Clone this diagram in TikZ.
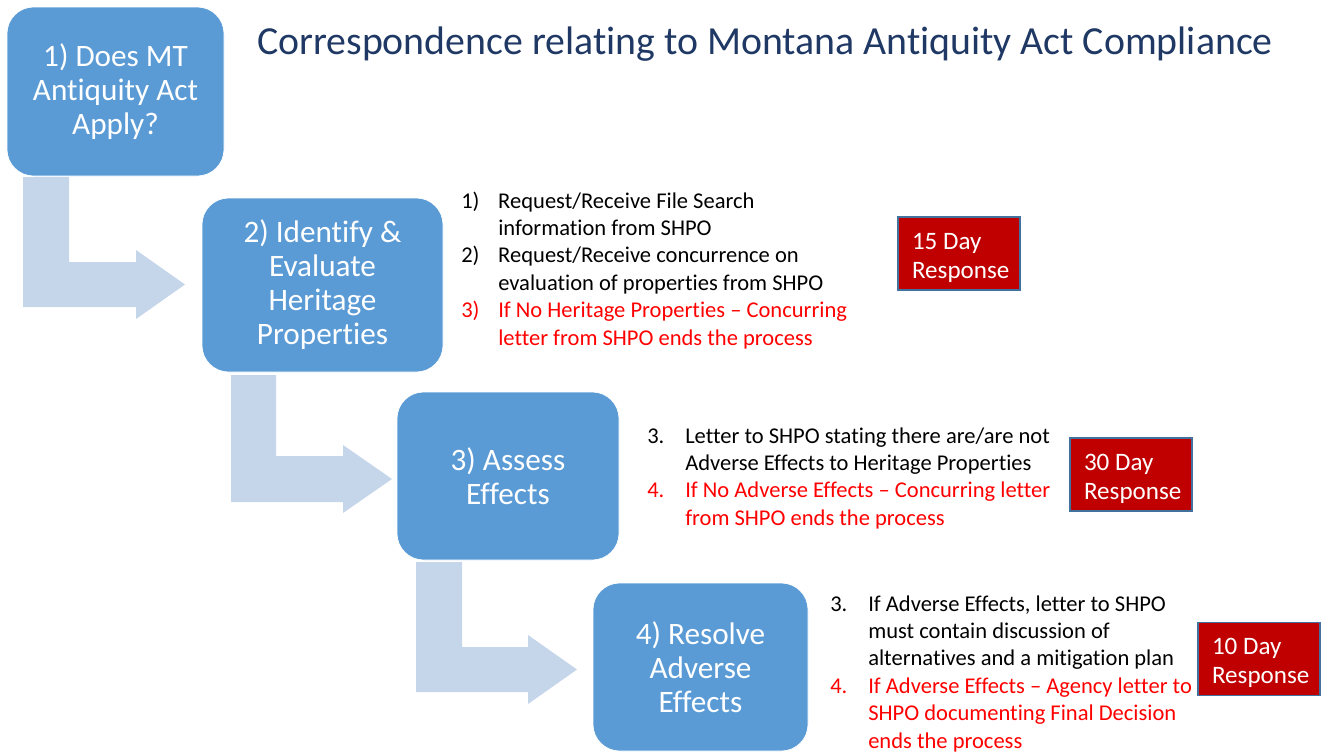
\documentclass[tikz,border=0pt]{standalone}
\usepackage{fontspec}
\setmainfont{Carlito}[Ligatures={TeX,NoCommon}]
\usepackage{array}
\definecolor{boxblue}{HTML}{5B9BD5}
\definecolor{arrowblue}{RGB}{197,213,234}
\definecolor{darkred}{HTML}{C00000}
\definecolor{redborder}{HTML}{41719C}
\definecolor{titleblue}{HTML}{1F3864}
\definecolor{alert}{HTML}{FF0000}
\newcommand\daytext[1]{\rule{0pt}{18.5pt}\hspace*{2.5pt}#1 Day\\\hspace*{2.5pt}Response}
\begin{document}
\begin{tikzpicture}[x=0.75pt,y=-0.75pt,
  stepbox/.style={rectangle, rounded corners=20pt, fill=boxblue, draw=white, line width=0.5pt, text=white, align=center, font=\fontsize{23.4}{25.5}\selectfont, inner sep=0pt},
  bentarrow/.style={fill=arrowblue},
  daybox/.style={rectangle, fill=darkred, draw=redborder, line width=1pt, text=white, align=left, font=\fontsize{18.8}{22}\selectfont, minimum width=91.5pt, minimum height=54.75pt, inner sep=0pt},
  steps/.style={anchor=base west, inner sep=0pt, font=\fontsize{16.9}{20.55}\selectfont}
]
\useasboundingbox (0,0) rectangle (1332,751);

% bent block arrows
\fill[bentarrow] (23,177) -- (69,177) -- (69,262) -- (136,262) -- (136,250) -- (185,284.5) -- (136,319) -- (136,307) -- (23,307) -- cycle;
\fill[bentarrow] (231,375) -- (276,375) -- (276,456) -- (343,456) -- (343,445) -- (392,479) -- (343,513) -- (343,502) -- (231,502) -- cycle;
\fill[bentarrow] (416,562) -- (462,562) -- (462,647) -- (528,647) -- (528,635) -- (577,669.5) -- (528,704) -- (528,692) -- (416,692) -- cycle;

% step boxes
\node[stepbox, minimum width=162.75pt, minimum height=126.75pt] (s1) at (115.5,91.5) {1) Does MT\\Antiquity Act\\Apply?};
\node[stepbox, minimum width=180.75pt, minimum height=130.5pt] (s2) at (322.5,285) {2) Identify \&\\Evaluate\\Heritage\\Properties};
\node[stepbox, minimum width=166.5pt, minimum height=126pt] (s3) at (508,476) {3) Assess\\Effects};
\node[stepbox, minimum width=161.25pt, minimum height=126pt] (s4) at (700.5,667) {4) Resolve\\Adverse\\Effects};

% title
\node[anchor=base west, inner sep=0pt, text=titleblue, font=\fontsize{29.85}{35}\selectfont] (title) at (257,54) {Correspondence relating to Montana Antiquity Act Compliance};

% step descriptions
\node[steps] (t2) at (461,208) {\begin{tabular}[t]{@{}p{27.75pt}@{}l@{}}
1) & Request/Receive File Search\\
   & information from SHPO\\
2) & Request/Receive concurrence on\\
   & evaluation of properties from SHPO\\
\textcolor{alert}{3)} & \textcolor{alert}{If No Heritage Properties -- Concurring}\\
   & \textcolor{alert}{letter from SHPO ends the process}
\end{tabular}};

\node[steps] (t3) at (647,443) {\begin{tabular}[t]{@{}p{28.5pt}@{}l@{}}
3. & Letter to SHPO stating there are/are not\\
   & Adverse Effects to Heritage Properties\\
\textcolor{alert}{4.} & \textcolor{alert}{If No Adverse Effects -- Concurring letter}\\
   & \textcolor{alert}{from SHPO ends the process}
\end{tabular}};

\node[steps] (t4) at (830,611) {\begin{tabular}[t]{@{}p{28.5pt}@{}l@{}}
3. & If Adverse Effects, letter to SHPO\\
   & must contain discussion of\\
   & alternatives and a mitigation plan\\
\textcolor{alert}{4.} & \textcolor{alert}{If Adverse Effects -- Agency letter to}\\
   & \textcolor{alert}{SHPO documenting Final Decision}\\
   & \textcolor{alert}{ends the process}
\end{tabular}};

% response boxes
\node[daybox] (d1) at (959,253.5) {\daytext{15}};
\node[daybox] (d2) at (1131,474.5) {\daytext{30}};
\node[daybox] (d3) at (1259,659) {\daytext{10}};
\end{tikzpicture}
\end{document}
